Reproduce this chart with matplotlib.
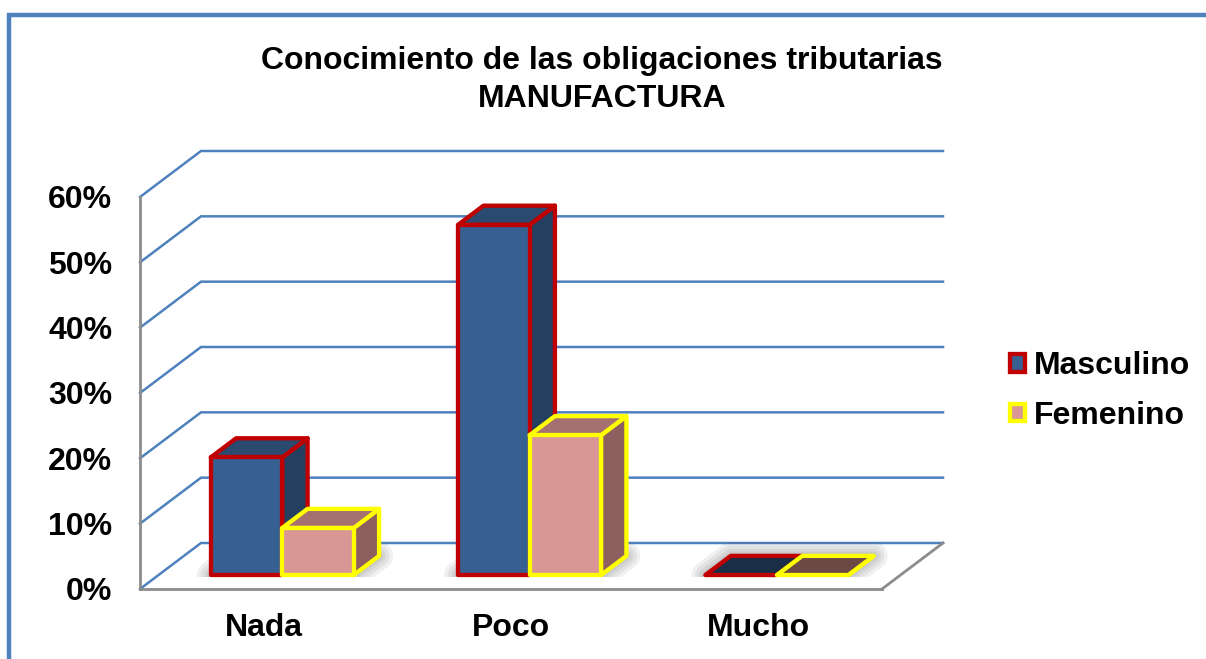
#!/usr/bin/env python3
"""Grouped pseudo-3D column chart: knowledge of tax obligations, manufacturing."""
import matplotlib
matplotlib.use('Agg')
import matplotlib.pyplot as plt
from matplotlib.patches import Patch, Polygon, Rectangle

plt.rcParams['font.family'] = ['Liberation Sans', 'DejaVu Sans']
plt.rcParams['font.weight'] = 'bold'
plt.rcParams['font.size'] = 23

categories = ['Nada', 'Poco', 'Mucho']
masculino = [18, 53.6, 0]
femenino = [7.2, 21.4, 0]
yticks = [0, 10, 20, 30, 40, 50, 60]
ytick_labels = ['0%', '10%', '20%', '30%', '40%', '50%', '60%']

W, H = 1206, 659
BLUE = '#4F81BD'
GRAY = '#8C8C8C'

fig = plt.figure(figsize=(W / 100, H / 100), dpi=100)
ax = fig.add_axes([140 / W, 1 - 589 / H, 742 / W, 392 / H])
ax.set_xlim(-0.5, 2.5)
ax.set_ylim(0, 60)

# depth axis: one unit of depth moves this far in data units
DX = 61 / (742 / 3)
DY = 46 / (392 / 60)
BAR_W = 71.5 / (742 / 3)
D0, D1 = 0.304, 0.72


def proj(x, y, d):
    return (x + d * DX, y + d * DY)


def face(points, color, edge, z, lw=3.1):
    ax.add_patch(Polygon(points, closed=True, facecolor=color, edgecolor=edge, lw=lw,
                         joinstyle='round', clip_on=False, zorder=z))


def shadow(x0, x1, z):
    pts = [proj(x0, 0, D0), proj(x1, 0, D0), proj(x1, 0, D1), proj(x0, 0, D1)]
    # soft edge from stacked strokes, cut just under the front of the bar
    band = Rectangle((-0.5, proj(0, 0, D0)[1] - 0.3), 4, 10, transform=ax.transData)
    for lw in [20, 15, 10, 6, 3]:
        p = Polygon(pts, closed=True, facecolor='#444444', edgecolor='#444444',
                    lw=lw, alpha=0.08, joinstyle='round', zorder=z)
        ax.add_patch(p)
        p.set_clip_path(band)


def bar3d(x0, x1, val, front, top, side, edge, z):
    face([proj(x1, 0, D0), proj(x1, 0, D1), proj(x1, val, D1), proj(x1, val, D0)], side, edge, z)
    face([proj(x0, val, D0), proj(x1, val, D0), proj(x1, val, D1), proj(x0, val, D1)], top, edge, z)
    if val > 0:
        face([proj(x0, 0, D0), proj(x1, 0, D0), proj(x1, val, D0), proj(x0, val, D0)], front, edge, z)


# walls and floor
for t in yticks:
    xs, ys = zip(proj(-0.5, t, 0), proj(-0.5, t, 1), proj(2.5, t, 1))
    ax.plot(xs, ys, color=BLUE, lw=1.8, clip_on=False, zorder=1, solid_joinstyle='miter')
xs, ys = zip(proj(2.5, 0, 0), proj(2.5, 0, 1))
ax.plot(xs, ys, color=GRAY, lw=2.0, clip_on=False, zorder=2)

for i in range(len(categories)):
    shadow(i - BAR_W, i + BAR_W, 3)
    if masculino[i] > 0:
        m_colors = ('#376092', '#2B4A70', '#243F60')
        f_colors = ('#D99694', '#A5706F', '#8D5F5E')
    else:
        m_colors = ('#376092', '#1A2E47', '#1A2E47')
        f_colors = ('#D99694', '#6B4A46', '#6B4A46')
    bar3d(i - BAR_W, i, masculino[i], *m_colors, '#C00000', 4 + i)
    bar3d(i, i + BAR_W, femenino[i], *f_colors, '#FFFF00', 5 + i)

for s in ['top', 'right']:
    ax.spines[s].set_visible(False)
for s in ['left', 'bottom']:
    ax.spines[s].set_color(GRAY)
    ax.spines[s].set_linewidth(2.0)

ax.set_xticks(range(len(categories)), categories)
ax.set_yticks(yticks, ytick_labels)
ax.tick_params(axis='x', length=0, pad=17)
ax.tick_params(axis='y', length=0, pad=20)
ax.patch.set_visible(False)

ax.set_title('Conocimiento de las obligaciones tributarias\nMANUFACTURA',
             x=(602 - 140) / 742, y=1, pad=65, fontweight='bold', fontsize=23, linespacing=1.32)

handles = [Patch(facecolor='#376092', edgecolor='#C00000', lw=3.1, label='Masculino'),
           Patch(facecolor='#D99694', edgecolor='#FFFF00', lw=3.1, label='Femenino')]
fig.legend(handles=handles, loc='center left', bbox_to_anchor=(1004 / W, 1 - 391 / H),
           frameon=False, handlelength=0.47, handleheight=0.47, handletextpad=0.26,
           labelspacing=0.62, borderpad=0, borderaxespad=0.2)

# chart frame, runs off the right and bottom of the image
fig.add_artist(Rectangle((9 / W, -0.05), 1.1, 1.05 - 15 / H, transform=fig.transFigure,
                         fill=False, edgecolor=BLUE, lw=3.2))

fig.savefig('out.png', dpi=100)
